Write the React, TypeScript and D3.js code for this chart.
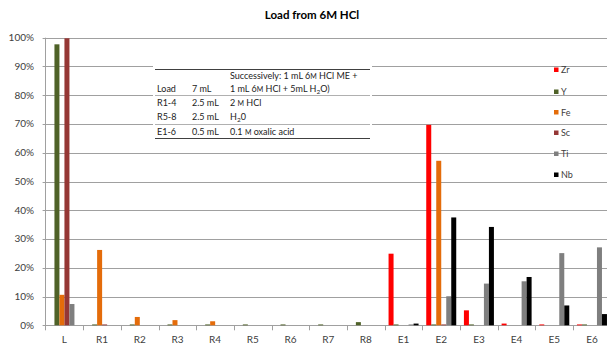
import React from "react";
import * as d3 from "d3";

// Categories along the x axis (load, rinses, eluates)
const categories = ["L", "R1", "R2", "R3", "R4", "R5", "R6", "R7", "R8", "E1", "E2", "E3", "E4", "E5", "E6"];

// Element series, in legend / bar order
const seriesNames = ["Zr", "Y", "Fe", "Sc", "Ti", "Nb"];
const seriesColors = ["#ff0000", "#4f6228", "#e46c0a", "#953735", "#7f7f7f", "#000000"];

// Percent of each element found in each fraction
const zrValues = [0, 0, 0, 0, 0, 0, 0, 0, 0, 24.9, 69.7, 5.2, 0.6, 0.3, 0.3];
const yValues = [97.7, 0.3, 0.3, 0.3, 0.3, 0.3, 0.3, 0.3, 1.1, 0.3, 0.3, 0.3, 0, 0, 0.3];
const feValues = [10.6, 26.2, 2.9, 1.8, 1.4, 0, 0, 0, 0, 0, 57.2, 0, 0, 0, 0];
const scValues = [99.8, 0.3, 0, 0, 0, 0, 0, 0, 0, 0, 0.3, 0, 0, 0, 0];
const tiValues = [7.4, 0, 0, 0, 0, 0, 0, 0, 0, 0.3, 10.1, 14.5, 15.3, 25.1, 27.1];
const nbValues = [0, 0, 0, 0, 0, 0, 0, 0, 0, 0.6, 37.5, 34.2, 16.8, 6.9, 3.9];

const yTicks = [0, 10, 20, 30, 40, 50, 60, 70, 80, 90, 100];

const W = 607;
const H = 344;
const FONT = "Lato, 'Open Sans', sans-serif";

export default function App() {
  const allSeries = [zrValues, yValues, feValues, scValues, tiValues, nbValues];

  const x0 = d3.scaleBand<string>().domain(categories).range([45.6, 610.8]).paddingInner(0).paddingOuter(0);
  const x1 = d3
    .scaleBand<string>()
    .domain(seriesNames)
    .range([0, x0.bandwidth()])
    .paddingInner(0)
    .paddingOuter(0.768);
  const y = d3.scaleLinear().domain([0, 100]).range([325.3, 37.7]);

  const plotLeft = 45.6;
  const plotRight = 610.8;

  // Method table rows (beside the bars)
  const tableLeft = 155;
  const tableRight = 370;
  const col1 = 157;
  const col2 = 192;
  const col3 = 230;
  const M = (key: string) => (
    <tspan key={key} fontSize={7}>M</tspan>
  );

  return (
    <svg
      width={W}
      height={H}
      style={{ position: "absolute", left: 0, top: 0, background: "#fff" }}
      fontFamily={FONT}
    >
      <rect x={0} y={0} width={W} height={H} fill="#fff" />

      {/* title */}
      <text x={312} y={19} textAnchor="middle" fontSize={11.5} fontWeight="bold" fill="#000">
        Load from 6M HCl
      </text>

      {/* horizontal gridlines */}
      {yTicks.map((t) => (
        <line
          key={"g" + t}
          x1={plotLeft - 3}
          x2={plotRight}
          y1={Math.round(y(t)) + 0.5}
          y2={Math.round(y(t)) + 0.5}
          stroke="#a0a0a0"
          strokeWidth={1}
        />
      ))}

      {/* y axis line */}
      <line x1={45.5} x2={45.5} y1={y(100)} y2={y(0) + 5} stroke="#a0a0a0" />

      {/* category ticks */}
      {categories.map((c, i) => (
        <line
          key={"t" + c}
          x1={Math.round(x0(c)!) + 0.5}
          x2={Math.round(x0(c)!) + 0.5}
          y1={y(0)}
          y2={y(0) + 5}
          stroke="#a0a0a0"
          opacity={i === 0 ? 0 : 1}
        />
      ))}

      {/* y tick labels */}
      {yTicks.map((t) => (
        <text key={"yl" + t} x={34} y={y(t) + 3.4} textAnchor="end" fontSize={10} fill="#404040">
          {t}%
        </text>
      ))}

      {/* x labels */}
      {categories.map((c) => (
        <text
          key={"xl" + c}
          x={x0(c)! + x0.bandwidth() / 2}
          y={343}
          textAnchor="middle"
          fontSize={10}
          fill="#404040"
        >
          {c}
        </text>
      ))}

      {/* bars */}
      {categories.map((c, ci) => (
        <g key={"b" + c} transform={`translate(${x0(c)},0)`}>
          {seriesNames.map((s, si) => {
            const v = allSeries[si][ci];
            if (v <= 0) return null;
            return (
              <rect
                key={s}
                x={x1(s)}
                y={y(v)}
                width={x1.bandwidth()}
                height={y(0) - y(v)}
                fill={seriesColors[si]}
              />
            );
          })}
        </g>
      ))}

      {/* method table */}
      <rect x={tableLeft - 2} y={63} width={tableRight - tableLeft + 4} height={79} fill="#fff" />
      <g stroke="#404040" strokeWidth={1}>
        <line x1={tableLeft} x2={tableRight} y1={69.5} y2={69.5} />
        <line x1={tableLeft} x2={tableRight} y1={95.5} y2={95.5} stroke="#b0b0b0" />
        <line x1={tableLeft} x2={tableRight} y1={124.5} y2={124.5} stroke="#b0b0b0" />
        <line x1={tableLeft} x2={tableRight} y1={138.5} y2={138.5} />
      </g>
      <g fontSize={9} fill="#222">
        <text x={col3} y={78.5}>
          Successively: 1 mL 6{M("a")} HCl ME +
        </text>
        <text x={col1} y={92}>Load</text>
        <text x={col2} y={92}>7 mL</text>
        <text x={col3} y={92}>
          1 mL 6{M("b")} HCl + 5mL H
          <tspan fontSize={6.5} dy={2}>2</tspan>
          <tspan dy={-2}>O)</tspan>
        </text>
        <text x={col1} y={106}>R1-4</text>
        <text x={col2} y={106}>2.5 mL</text>
        <text x={col3} y={106}>
          2 {M("c")} HCl
        </text>
        <text x={col1} y={120}>R5-8</text>
        <text x={col2} y={120}>2.5 mL</text>
        <text x={col3} y={120}>
          H<tspan fontSize={6.5} dy={2}>2</tspan>
          <tspan dy={-2}>0</tspan>
        </text>
        <text x={col1} y={134.5}>E1-6</text>
        <text x={col2} y={134.5}>0.5 mL</text>
        <text x={col3} y={134.5}>
          0.1 {M("d")} oxalic acid
        </text>
      </g>

      {/* legend */}
      {seriesNames.map((s, i) => {
        const ly = [70, 92, 112.5, 133, 154, 175][i];
        return (
          <g key={"lg" + s}>
            <rect x={554} y={ly - 2.5} width={4.5} height={4.5} fill={seriesColors[i]} />
            <text x={561} y={ly + 3.2} fontSize={9} fill="#404040">
              {s}
            </text>
          </g>
        );
      })}
    </svg>
  );
}
